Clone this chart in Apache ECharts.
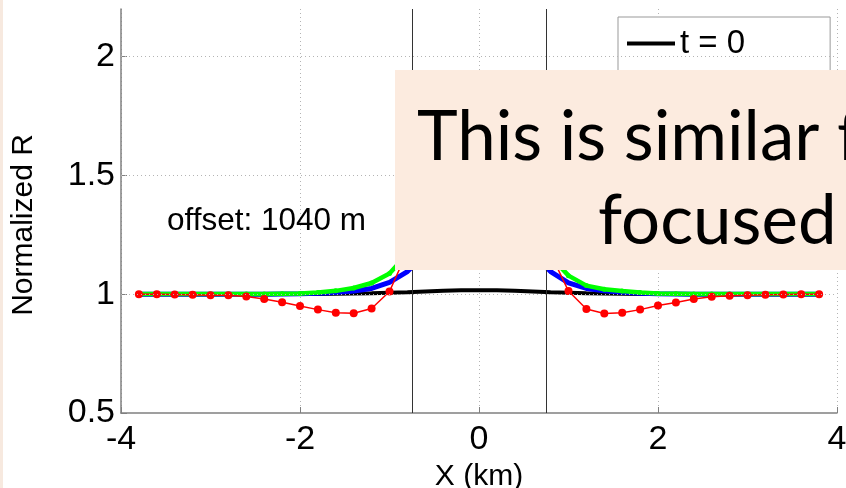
<!DOCTYPE html>
<html>
<head>
<meta charset="utf-8">
<script src="https://cdn.jsdelivr.net/npm/echarts@6/dist/echarts.min.js"></script>
<style>
  html, body { margin: 0; padding: 0; background: #fff; }
  #chart { width: 846px; height: 488px; }
</style>
</head>
<body>
<div id="chart"></div>
<script>
// Profile positions along the line (km)
const xKm = [-3.8, -3.6, -3.4, -3.2, -3.0, -2.8, -2.6, -2.4, -2.2, -2.0,
             -1.8, -1.6, -1.4, -1.2, -1.0, -0.8, -0.6, -0.4, -0.2, 0.0,
              0.2,  0.4,  0.6,  0.8,  1.0,  1.2,  1.4,  1.6,  1.8, 2.0,
              2.2,  2.4,  2.6,  2.8,  3.0,  3.2,  3.4,  3.6,  3.8];

// Normalized R, initial state (t = 0)
const rBlack = [1.000, 1.000, 1.000, 1.000, 1.000, 1.000, 1.000, 1.000, 1.001, 1.001,
                1.001, 1.002, 1.003, 1.004, 1.006, 1.008, 1.011, 1.014, 1.016, 1.017,
                1.016, 1.014, 1.011, 1.008, 1.006, 1.004, 1.003, 1.002, 1.001, 1.001,
                1.001, 1.000, 1.000, 1.000, 1.000, 1.000, 1.000, 1.000, 1.000];

// Normalized R, blue curve
const rBlue = [1.000, 1.000, 1.000, 1.000, 1.000, 1.000, 1.000, 1.000, 1.001, 1.002,
               1.004, 1.007, 1.013, 1.024, 1.050, 1.095, 1.170, 1.260, 1.320, 1.340,
               1.320, 1.260, 1.170, 1.095, 1.048, 1.024, 1.014, 1.008, 1.004, 1.002,
               1.001, 1.000, 1.000, 1.000, 1.000, 1.000, 1.000, 1.000, 1.000];

// Normalized R, green curve
const rGreen = [1.001, 1.001, 1.001, 1.001, 1.001, 1.001, 1.001, 1.001, 1.002, 1.003,
                1.007, 1.014, 1.026, 1.047, 1.087, 1.170, 1.280, 1.380, 1.440, 1.460,
                1.440, 1.380, 1.280, 1.160, 1.078, 1.036, 1.021, 1.013, 1.007, 1.003,
                1.002, 1.001, 1.001, 1.001, 1.001, 1.001, 1.001, 1.001, 1.001];

// Normalized R, red curve (with markers)
const rRed = [1.000, 1.000, 0.999, 0.998, 0.996, 0.995, 0.990, 0.980, 0.966, 0.950,
              0.935, 0.922, 0.920, 0.940, 1.011, 1.180, 1.420, 1.620, 1.730, 1.760,
              1.730, 1.620, 1.420, 1.170, 1.013, 0.938, 0.919, 0.922, 0.935, 0.952,
              0.965, 0.980, 0.989, 0.993, 0.996, 0.998, 0.999, 1.000, 1.000];

const yTicks = [0.5, 1, 1.5, 2];
const yGrid = [1, 1.5, 2];
const focusX = [-0.75, 0.75];

const FONT = '"Liberation Sans", Arial, sans-serif';
const SLIDE_FONT = '69px Lato, "Open Sans", sans-serif';
const pairs = arr => xKm.map((x, i) => [x, arr[i]]);

const chart = echarts.init(document.getElementById('chart'), null, { renderer: 'canvas' });

chart.setOption({
  animation: false,
  backgroundColor: '#ffffff',
  grid: { left: 121, right: 9, top: 9, bottom: 75, containLabel: false, outerBoundsMode: 'none' },
  xAxis: {
    type: 'value', min: -4, max: 4, interval: 2,
    axisLine: { show: true, onZero: false, lineStyle: { color: '#808080', width: 1.5 } },
    axisTick: { show: true, inside: true, length: 6, lineStyle: { color: '#808080' } },
    axisLabel: { color: '#000', fontSize: 34, fontFamily: FONT, margin: 10 },
    splitLine: { show: true, lineStyle: { type: [1, 3], color: '#b4b4b4', width: 1 } },
    name: 'X (km)', nameLocation: 'middle', nameGap: 40,
    nameTextStyle: { color: '#000', fontSize: 30, fontFamily: FONT }
  },
  yAxis: {
    type: 'value', min: 0.5, max: 2.2, interval: 0.5,
    axisLine: { show: true, onZero: false, lineStyle: { color: '#808080', width: 1.5 } },
    axisTick: { show: true, inside: true, length: 6, customValues: yTicks, lineStyle: { color: '#808080' } },
    axisLabel: { color: '#000', fontSize: 34, fontFamily: FONT, margin: 6, customValues: yTicks,
                 formatter: v => String(v) },
    splitLine: { show: false },
    name: 'Normalized R', nameLocation: 'middle', nameGap: 82, nameRotate: 90,
    nameTextStyle: { color: '#000', fontSize: 30, fontFamily: FONT, padding: [0, 28, 0, 0] }
  },
  legend: {
    data: ['t = 0'], orient: 'vertical', left: 618, top: 17,
    padding: [10, 85, 40, 9], itemGap: 0,
    backgroundColor: '#ffffff', borderColor: '#999999', borderWidth: 1,
    icon: 'rect', itemWidth: 48, itemHeight: 4, selectedMode: false,
    textStyle: { color: '#000', fontSize: 33, fontFamily: FONT }
  },
  series: [
    {
      name: 't = 0', type: 'line', data: pairs(rBlack), symbol: 'none',
      lineStyle: { color: '#000000', width: 4 }, itemStyle: { color: '#000000' },
      markLine: {
        silent: true, symbol: 'none', label: { show: false },
        data: [
          ...yGrid.map(v => ({ yAxis: v, lineStyle: { type: [1, 3], color: '#b4b4b4', width: 1 } })),
          ...focusX.map(v => ({ xAxis: v, lineStyle: { type: 'solid', color: '#333333', width: 1 } }))
        ]
      }
    },
    {
      name: 'blue', type: 'line', data: pairs(rBlue), symbol: 'none',
      lineStyle: { color: '#0000ff', width: 5 }, itemStyle: { color: '#0000ff' }
    },
    {
      name: 'green', type: 'line', data: pairs(rGreen), symbol: 'circle', symbolSize: 5,
      lineStyle: { color: '#00ff00', width: 4.5 }, itemStyle: { color: '#00ff00' }
    },
    {
      name: 'red', type: 'line', data: pairs(rRed), symbol: 'circle', symbolSize: 8,
      lineStyle: { color: '#ff0000', width: 1.5 }, itemStyle: { color: '#ff0000' }
    }
  ],
  graphic: [
    { type: 'rect', left: 0, top: 0, shape: { width: 3, height: 488 }, style: { fill: '#f7e9df' }, z: 100 },
    { type: 'text', x: 167, y: 221, z: 50,
      style: { text: 'offset: 1040 m', font: '31.5px ' + FONT, fill: '#000', verticalAlign: 'middle' } },
    { type: 'rect', x: 395, y: 70, shape: { width: 451, height: 200 }, style: { fill: '#fcebdf' }, z: 100 },
    { type: 'text', x: 417, y: 138, z: 101,
      style: { text: 'This is similar f', font: SLIDE_FONT, fill: '#000', verticalAlign: 'middle' } },
    { type: 'text', x: 598, y: 222, z: 101,
      style: { text: 'focused', font: SLIDE_FONT, fill: '#000', verticalAlign: 'middle' } }
  ]
});
</script>
</body>
</html>
